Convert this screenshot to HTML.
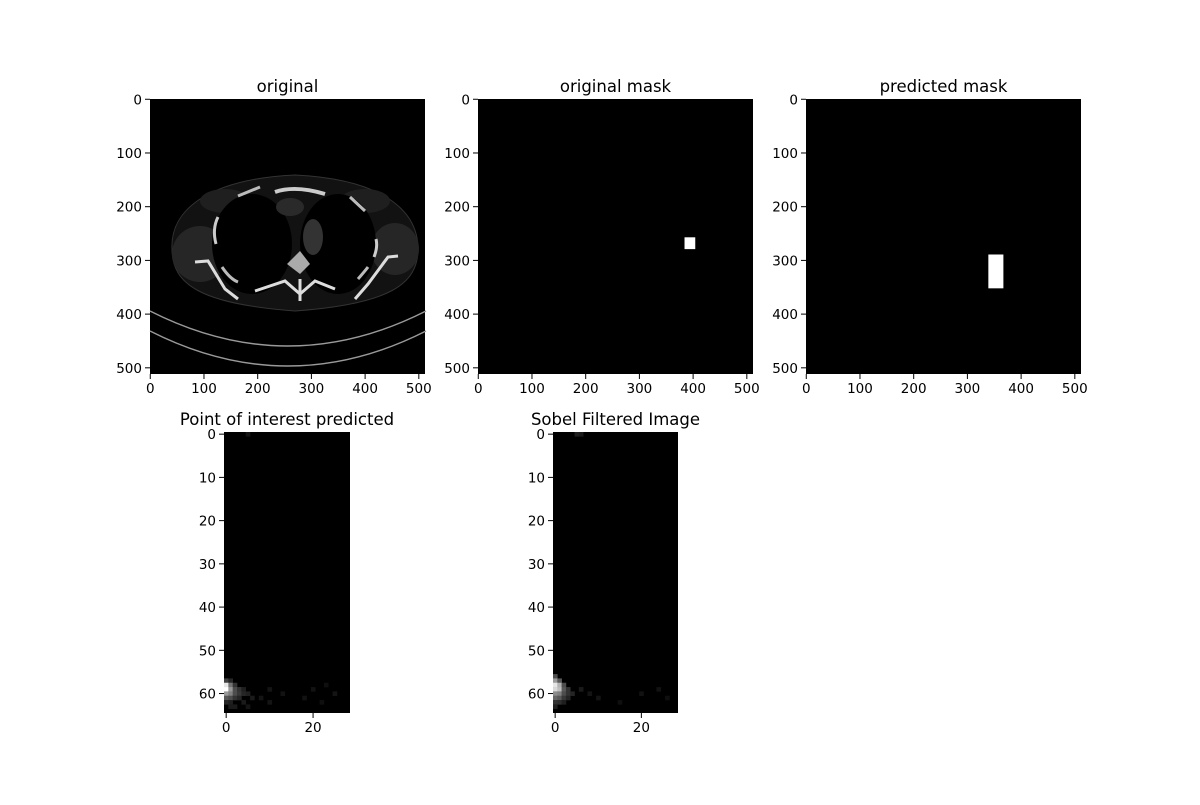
<!DOCTYPE html>
<html><head><meta charset="utf-8"><style>
body{margin:0;background:#fff;}
svg{font-family:"DejaVu Sans","Liberation Sans",sans-serif;}
</style></head><body>
<svg id="fig" width="1200" height="800" xmlns="http://www.w3.org/2000/svg">
<rect width="1200" height="800" fill="#fff"/>
</svg>
<script>
const topTicks=[0,100,200,300,400,500];
const imgSize=512;
const origMaskRect=[384,257,404,279]; // x0,y0,x1,y1
const predMaskRect=[339,289,367,352];
const poiCols=29, poiRows=65;
const poiXTicks=[0,20];
const poiYTicks=[0,10,20,30,40,50,60];
// sparse cells: [row,col,value]
const poiCells=[[57,0,0.25],[57,1,0.15],[58,0,0.9],[58,1,0.45],[58,2,0.2],[59,0,1.0],[59,1,0.6],[59,2,0.3],[59,3,0.2],[59,4,0.12],[60,0,0.6],[60,1,0.5],[60,2,0.3],[60,3,0.22],[60,4,0.15],[60,5,0.12],[61,0,0.35],[61,1,0.3],[61,2,0.2],[61,3,0.15],[61,6,0.1],[61,8,0.08],[62,0,0.15],[62,1,0.12],[62,4,0.1],[62,10,0.08],[63,1,0.1],[63,2,0.1],[63,5,0.08],[59,10,0.08],[59,20,0.07],[60,25,0.08],[58,23,0.06],[61,18,0.07],[62,22,0.06],[60,13,0.07],[0,5,0.08]];
const sobelCells=[[56,0,0.3],[57,0,0.6],[57,1,0.35],[58,0,0.9],[58,1,0.7],[58,2,0.3],[59,0,0.85],[59,1,0.75],[59,2,0.35],[59,3,0.2],[60,0,0.55],[60,1,0.5],[60,2,0.3],[60,3,0.2],[60,4,0.14],[61,0,0.4],[61,1,0.35],[61,2,0.22],[61,3,0.15],[62,0,0.2],[62,1,0.18],[62,2,0.12],[63,0,0.12],[59,6,0.1],[60,8,0.08],[61,10,0.08],[60,20,0.07],[59,24,0.07],[61,26,0.06],[62,15,0.06],[0,5,0.12],[0,6,0.1]];
const NS='http://www.w3.org/2000/svg';
const fig=document.getElementById('fig');
function el(t,a,p){const e=document.createElementNS(NS,t);for(const k in a)e.setAttribute(k,a[k]);(p||fig).appendChild(e);return e;}
function txt(s,x,y,size,anchor,p){const e=el('text',{x:x,y:y,'font-size':size,'text-anchor':anchor,fill:'#000'},p);e.textContent=s;return e;}
function axes(name,title,x0,y0,w,h,nx,ny,xt,yt){
  const g=el('g',{});
  
  
  const sx=v=>x0+(v+0.5)*w/nx, sy=v=>y0+(v+0.5)*h/ny;
  el('rect',{x:x0,y:y0,width:w,height:h,fill:'#000'},g);
  const t=txt(title,x0+w/2,y0-7,16.5,'middle',g);
  
  
  xt.forEach(v=>{el('line',{x1:sx(v),x2:sx(v),y1:y0+h,y2:y0+h+5,stroke:'#000'},g);txt(String(v),sx(v),y0+h+19,13.5,'middle',g);});
  yt.forEach(v=>{el('line',{x1:x0-5,x2:x0,y1:sy(v),y2:sy(v),stroke:'#000'},g);txt(String(v),x0-8,sy(v)+5,13.5,'end',g);});
  return {g,sx,sy,cw:w/nx,ch:h/ny};
}
// original CT
const a1=axes('original-image-axes','original',150,99,275,275,imgSize,imgSize,topTicks,topTicks);
const ct=el('g',{transform:'translate(150,99)'},a1.g);


ct.innerHTML=`
<path d="M22,150 C20,110 60,80 145,76 C230,80 268,110 268,150 C268,185 240,205 145,212 C50,205 22,185 22,150Z" fill="#121212" stroke="#333" stroke-width="1"/>
<ellipse cx="50" cy="155" rx="28" ry="28" fill="#262626"/>
<ellipse cx="245" cy="150" rx="24" ry="26" fill="#262626"/>
<ellipse cx="75" cy="102" rx="25" ry="12" fill="#1f1f1f"/>
<ellipse cx="215" cy="102" rx="25" ry="12" fill="#1f1f1f"/>
<ellipse cx="102" cy="145" rx="40" ry="50" fill="#000"/>
<ellipse cx="188" cy="145" rx="38" ry="50" fill="#000"/>
<ellipse cx="140" cy="108" rx="14" ry="9" fill="#2a2a2a"/>
<ellipse cx="163" cy="138" rx="10" ry="18" fill="#333"/>
<path d="M125,93 Q145,86 175,95" stroke="#ccc" stroke-width="4" fill="none"/>
<path d="M88,97 L110,88" stroke="#bbb" stroke-width="3" fill="none"/>
<path d="M200,98 L215,112" stroke="#bbb" stroke-width="3" fill="none"/>
<path d="M68,118 Q62,130 66,145" stroke="#ccc" stroke-width="3" fill="none"/>
<path d="M226,140 Q228,148 224,158" stroke="#ccc" stroke-width="3" fill="none"/>
<path d="M72,168 Q80,180 88,183" stroke="#bbb" stroke-width="3" fill="none"/>
<path d="M208,180 Q215,172 218,168" stroke="#bbb" stroke-width="3" fill="none"/>
<path d="M45,163 L58,162 L75,190 L88,200" stroke="#ddd" stroke-width="3" fill="none"/>
<path d="M248,157 L238,158 L218,185 L205,200" stroke="#ddd" stroke-width="3" fill="none"/>
<path d="M137,165 L150,152 L160,165 L150,175Z" fill="#aaa"/>
<path d="M105,192 L135,182 L150,195 L165,182 L185,190" stroke="#ddd" stroke-width="3" fill="none"/>
<path d="M150,180 L150,202" stroke="#ddd" stroke-width="3"/>
<path d="M0,212 Q138,282 276,212" stroke="#999" stroke-width="1.4" fill="none"/>
<path d="M0,232 Q138,302 276,232" stroke="#999" stroke-width="1.4" fill="none"/>`;
// original mask
const a2=axes('original-mask-axes','original mask',478,99,275,275,imgSize,imgSize,topTicks,topTicks);
const r2=el('rect',{x:a2.sx(origMaskRect[0]),y:a2.sy(origMaskRect[1]),width:(origMaskRect[2]-origMaskRect[0])*a2.cw,height:(origMaskRect[3]-origMaskRect[1])*a2.ch,fill:'#fff'},a2.g);


const a3=axes('predicted-mask-axes','predicted mask',806,99,275,275,imgSize,imgSize,topTicks,topTicks);
const r3=el('rect',{x:a3.sx(predMaskRect[0]),y:a3.sy(predMaskRect[1]),width:(predMaskRect[2]-predMaskRect[0])*a3.cw,height:(predMaskRect[3]-predMaskRect[1])*a3.ch,fill:'#fff'},a3.g);


function heat(a,cells){cells.forEach(c=>{const v=Math.round(c[2]*255);const r=el('rect',{x:a.sx(c[1])-a.cw/2,y:a.sy(c[0])-a.ch/2,width:a.cw+0.3,height:a.ch+0.3,fill:`rgb(${v},${v},${v})`},a.g);

});}
const a4=axes('poi-axes','Point of interest predicted',224,432,126,281,poiCols,poiRows,poiXTicks,poiYTicks);
heat(a4,poiCells);
const a5=axes('sobel-axes','Sobel Filtered Image',553,432,125,281,poiCols,poiRows,poiXTicks,poiYTicks);
heat(a5,sobelCells);
</script>
</body></html>
